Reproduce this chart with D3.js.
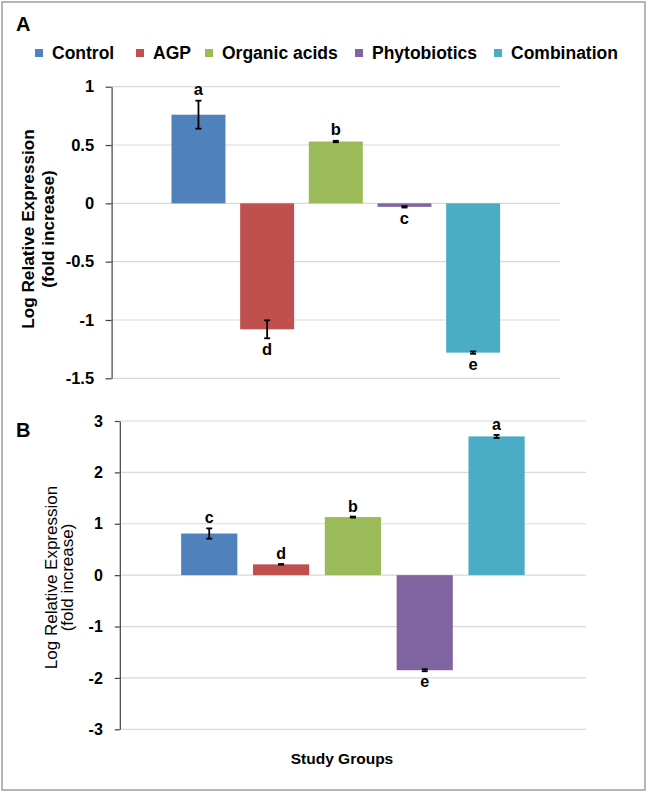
<!DOCTYPE html>
<html>
<head>
<meta charset="utf-8">
<script src="https://cdn.jsdelivr.net/npm/d3@7"></script>
<style>
  html, body { margin: 0; padding: 0; background: #fff; }
  text { font-family: "Liberation Sans", Arial, sans-serif; font-weight: bold; fill: #000; }
</style>
</head>
<body>
<svg id="chart" width="648" height="792"></svg>
<script>
// ---- Data ----
const groups = ["Control", "AGP", "Organic acids", "Phytobiotics", "Combination"];
const colors = ["#4F81BD", "#C0504D", "#9BBB59", "#8064A2", "#4BACC6"];

const valuesA = [0.76, -1.08, 0.53, -0.03, -1.28];
const errorsA = [0.12, 0.077, 0.006, 0.006, 0.01];
const lettersA = ["a", "d", "b", "c", "e"];
const ticksA = [-1.5, -1, -0.5, 0, 0.5, 1];
const tickLabelsA = ["-1.5", "-1", "-0.5", "0", "0.5", "1"];

const valuesB = [0.81, 0.21, 1.13, -1.85, 2.70];
const errorsB = [0.1, 0.006, 0.01, 0.02, 0.03];
const lettersB = ["c", "d", "b", "e", "a"];
const ticksB = [-3, -2, -1, 0, 1, 2, 3];
const tickLabelsB = ["-3", "-2", "-1", "0", "1", "2", "3"];

const yTitle1 = "Log Relative Expression";
const yTitle2 = "(fold increase)";
const xTitle = "Study Groups";

// ---- Drawing ----
const svg = d3.select("#chart");

svg.append("rect")
  .attr("x", 2).attr("y", 2).attr("width", 643).attr("height", 788)
  .attr("fill", "#fff").attr("stroke", "#A6A6A6").attr("stroke-width", 1.6);

// Legend
const legendX = [35, 136, 205, 355, 494];
const leg = svg.append("g");
groups.forEach((g, i) => {
  leg.append("rect").attr("x", legendX[i]).attr("y", 49).attr("width", 8).attr("height", 8).attr("fill", colors[i]);
  leg.append("text").attr("x", legendX[i] + 17).attr("y", 58.5).attr("font-size", 17.5).text(g);
});

function panel(cfg) {
  const g = svg.append("g");
  const x = d3.scaleBand().domain(groups)
    .range([cfg.x0, cfg.x1]).paddingInner(cfg.pin).paddingOuter(cfg.pout);
  const y = d3.scaleLinear().domain([cfg.ticks[0], cfg.ticks[cfg.ticks.length - 1]])
    .range([cfg.yBottom, cfg.yTop]);

  // gridlines
  g.selectAll("line.grid").data(cfg.ticks).join("line")
    .attr("class", "grid")
    .attr("x1", cfg.x0).attr("x2", cfg.x1)
    .attr("y1", d => y(d)).attr("y2", d => y(d))
    .attr("stroke", "#D9D9D9").attr("stroke-width", 1.2);

  // bars
  g.selectAll("rect.bar").data(cfg.values).join("rect")
    .attr("class", "bar")
    .attr("x", (d, i) => x(groups[i]))
    .attr("width", x.bandwidth())
    .attr("y", d => y(Math.max(0, d)))
    .attr("height", d => Math.abs(y(d) - y(0)))
    .attr("fill", (d, i) => colors[i]);

  // error bars
  cfg.values.forEach((v, i) => {
    const cx = x(groups[i]) + x.bandwidth() / 2;
    const e = cfg.errors[i];
    const yt = y(v + e), yb = y(v - e);
    g.append("line").attr("x1", cx).attr("x2", cx).attr("y1", yt).attr("y2", yb)
      .attr("stroke", "#000").attr("stroke-width", 1.8);
    [yt, yb].forEach(yy => g.append("line").attr("x1", cx - 3).attr("x2", cx + 3)
      .attr("y1", yy).attr("y2", yy).attr("stroke", "#000").attr("stroke-width", 1.8));
    const lbY = v >= 0 ? y(v + e) - cfg.above : y(v - e) + cfg.below;
    g.append("text").attr("x", cx).attr("y", lbY).attr("text-anchor", "middle")
      .attr("font-size", cfg.letterSize).text(cfg.letters[i]);
  });

  // axis
  const axis = d3.axisLeft(y).tickValues(cfg.ticks)
    .tickFormat((d, i) => cfg.tickLabels[i])
    .tickSize(cfg.tickSize).tickPadding(cfg.tickPad).tickSizeOuter(0);
  const ag = g.append("g").attr("transform", `translate(${cfg.x0},0)`).call(axis);
  ag.select(".domain").attr("stroke", "#404040").attr("stroke-width", 1.2);
  ag.selectAll(".tick line").attr("stroke", "#404040").attr("stroke-width", 1.2);
  ag.selectAll(".tick text").attr("font-size", cfg.tickFont)
    .attr("font-family", "Liberation Sans, Arial, sans-serif").attr("font-weight", "bold").attr("fill", "#000");

  // y title
  const cy = cfg.titleY;
  g.append("text").attr("transform", `translate(${cfg.t1x},${cy}) rotate(-90)`)
    .attr("text-anchor", "middle").attr("font-size", cfg.titleSize)
    .style("font-weight", cfg.titleWeight).text(yTitle1);
  g.append("text").attr("transform", `translate(${cfg.t2x},${cy}) rotate(-90)`)
    .attr("text-anchor", "middle").attr("font-size", cfg.titleSize)
    .style("font-weight", cfg.titleWeight).text(yTitle2);

  // panel letter
  g.append("text").attr("x", 16).attr("y", cfg.panelY).attr("font-size", 20).text(cfg.panel);
}

panel({
  panel: "A", panelY: 31,
  x0: 111.6, x1: 560, pin: 0.214, pout: 0.872,
  yTop: 86.7, yBottom: 378.3,
  ticks: ticksA, tickLabels: tickLabelsA, values: valuesA, errors: errorsA, letters: lettersA,
  tickSize: 6, tickPad: 11.5, tickFont: 16.5,
  above: 6, below: 16.5, letterSize: 16.5,
  t1x: 33.5, t2x: 54, titleY: 229, titleSize: 17.2, titleWeight: "bold"
});

panel({
  panel: "B", panelY: 437,
  x0: 119.8, x1: 586, pin: 0.218, pout: 0.854,
  yTop: 421, yBottom: 729.3,
  ticks: ticksB, tickLabels: tickLabelsB, values: valuesB, errors: errorsB, letters: lettersB,
  tickSize: 5, tickPad: 12, tickFont: 16,
  above: 5, below: 15.5, letterSize: 16,
  t1x: 57, t2x: 73, titleY: 577.5, titleSize: 17, titleWeight: "normal"
});

svg.append("text").attr("x", 342).attr("y", 763.5).attr("text-anchor", "middle")
  .attr("font-size", 15.5).text(xTitle);
</script>
</body>
</html>
